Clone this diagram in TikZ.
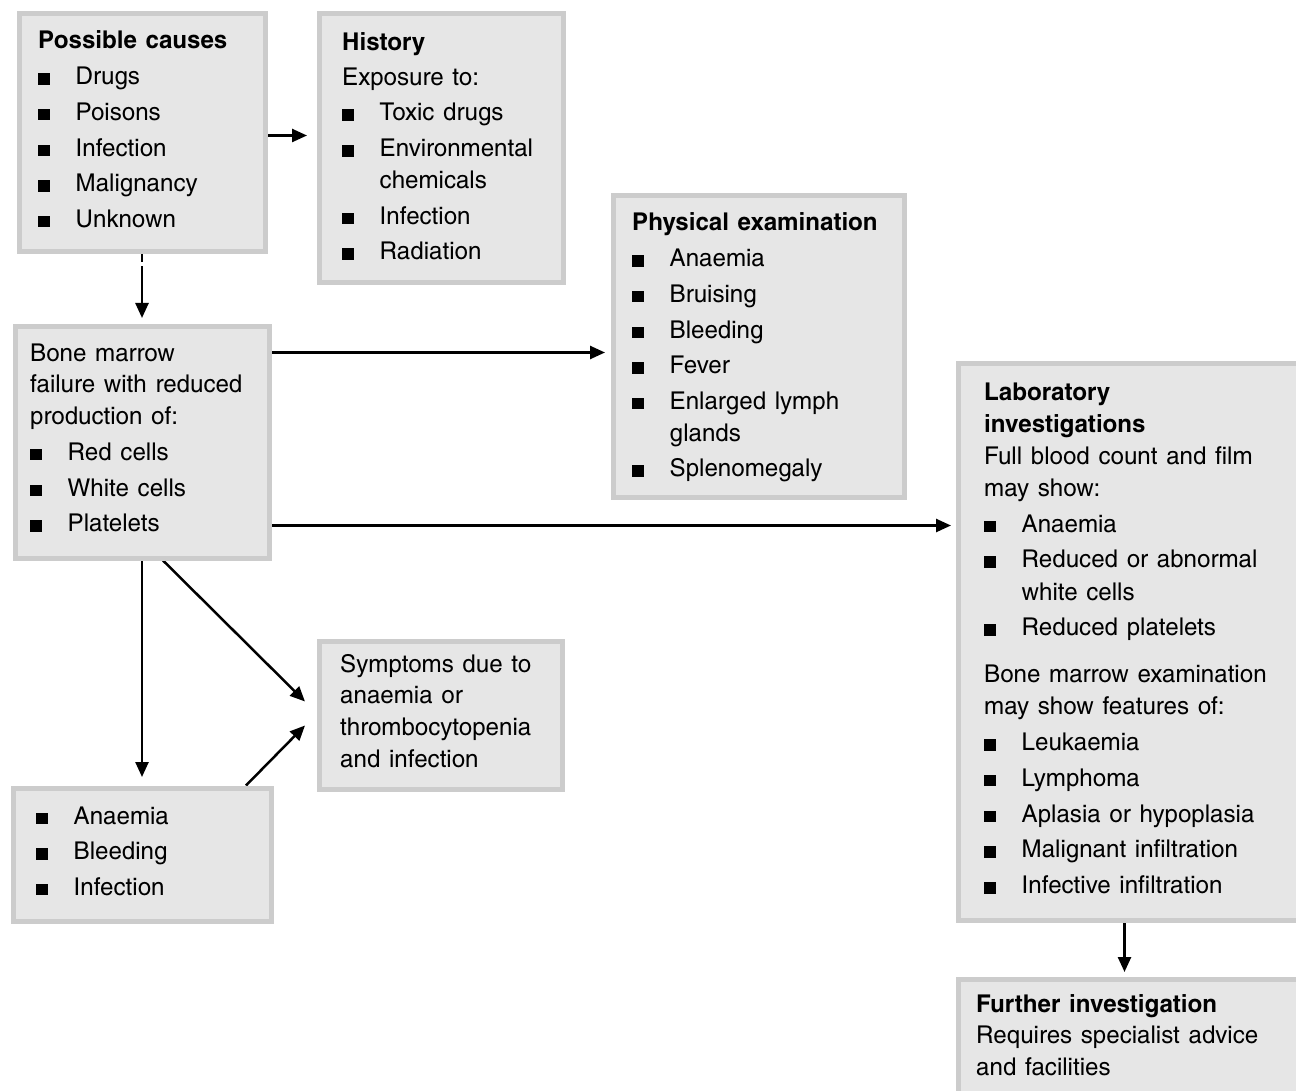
\documentclass[tikz,border=0pt]{standalone}
\usepackage{fontspec}
\setmainfont{TeX Gyre Heros Cn}[FakeStretch=1.2, WordSpace=1.3]
\usetikzlibrary{arrows.meta}
\pgfdeclarelayer{back}
\pgfsetlayers{back,main}
\definecolor{boxfill}{HTML}{E6E6E6}
\definecolor{boxline}{HTML}{CCCCCC}

% square bullet and hanging list item
\newcommand\sqb{\rule{11.5pt}{11.5pt}}
\newcommand\itm{\par\hangindent=37.5pt\hangafter=1\noindent\makebox[37.5pt][l]{\sqb}\ignorespaces}
% text block: first baseline is the node's base
\newcommand\blk[2]{\begin{minipage}[t]{#1}\raggedright\fontsize{24.5pt}{31.8pt}\selectfont
  \setlength\parskip{3.9pt}\setlength\parindent{0pt}#2\end{minipage}}
% leading for the long laboratory list
\newcommand\loose{\fontsize{24.5pt}{32.1pt}\selectfont\setlength\parskip{3.7pt}}

\tikzset{
  box/.style={draw=boxline, fill=boxfill, line width=5pt, inner sep=0pt, anchor=north west},
  txt/.style={inner sep=0pt, anchor=base west},
  arr/.style={line width=2.5pt, -{Triangle[length=15pt,width=13pt]}},
}

\begin{document}
\begin{tikzpicture}[x=1pt,y=-1pt]
\useasboundingbox (0,0) rectangle (1296,1091);

% panels
\node[box, minimum width=246pt, minimum height=238pt] (pc)   at (16.5,11.5) {};
\node[box, minimum width=244pt, minimum height=269pt] (hist) at (316.5,11.5) {};
\node[box, minimum width=291pt, minimum height=301pt] (phys) at (610.5,193.5) {};
\node[box, minimum width=254pt, minimum height=231pt] (bm)   at (12.5,324.5) {};
\node[box, minimum width=243pt, minimum height=148pt] (sym)  at (316.5,638.5) {};
\node[box, minimum width=258pt, minimum height=133pt] (bl)   at (10.5,785.5) {};
\node[box, minimum width=340pt, minimum height=557pt] (lab)  at (955.5,360.5) {};
\node[box, minimum width=340pt, minimum height=131pt] (fur)  at (955.5,976.5) {};

% panel texts
\node[txt] (pc-t) at (38,49) {\blk{225pt}{\textbf{Possible causes}
  \itm Drugs \itm Poisons \itm Infection \itm Malignancy \itm Unknown}};
\node[txt] (hist-t) at (342,51) {\blk{230pt}{\textbf{History}\\[2.5pt]Exposure to:
  \itm Toxic drugs \itm Environmental\newline chemicals \itm Infection \itm Radiation}};
\node[txt] (phys-t) at (632,231) {\blk{280pt}{\textbf{Physical examination}
  \itm Anaemia \itm Bruising \itm Bleeding \itm Fever \itm Enlarged lymph\newline glands
  \itm Splenomegaly}};
\node[txt] (bm-t) at (30,361) {\blk{250pt}{Bone marrow\\failure with reduced\\production of:
  \itm Red cells \itm White cells \itm Platelets}};
\node[txt] (sym-t) at (340,672) {\blk{230pt}{Symptoms due to\\anaemia or\\thrombocytopenia\\and infection}};
\node[txt] (bl-t) at (36,824) {\blk{235pt}{\itm Anaemia \itm Bleeding \itm Infection}};
\node[txt] (lab-t) at (984,400) {\blk{320pt}{\loose\textbf{Laboratory}\\\textbf{investigations}\\
  Full blood count and film\\may show:
  \itm Anaemia \itm Reduced or abnormal\newline white cells \itm Reduced platelets
  \par\vspace{11pt}Bone marrow examination\\may show features of:
  \itm Leukaemia \itm Lymphoma \itm Aplasia or hypoplasia \itm Malignant infiltration
  \itm Infective infiltration}};
\node[txt] (fur-t) at (976,1012) {\blk{320pt}{\textbf{Further investigation}\\
  Requires specialist advice\\and facilities}};

% connectors, kept behind the panels
\begin{pgfonlayer}{back}
\draw[arr, shorten >=9.5pt] ([yshift=-2.5pt]pc.east) -- ([yshift=-2.5pt]pc.east -| hist.west);
\draw[arr, shorten >=6.5pt, dash pattern=on 8pt off 4pt on 300pt] (pc.south) -- (bm.north);
\draw[arr, shorten >=5.5pt] ([yshift=90pt]bm.east) -- ([yshift=90pt]bm.east -| phys.west);
\draw[arr, shorten >=4.5pt] ([yshift=-83pt]bm.east) -- ([yshift=-83pt]bm.east -| lab.west);
\draw[arr, shorten >=8.5pt] (bm.south) -- (bl.north);
\draw[arr] ([xshift=21pt]bm.south) -- ([xshift=-11.5pt,yshift=13.5pt]sym.west);
\draw[arr] ([xshift=104pt]bl.north) -- ([xshift=-11.5pt,yshift=-10.5pt]sym.west);
\draw[arr, shorten >=4.5pt] ([xshift=-3.5pt]lab.south) -- ([xshift=-3.5pt]fur.north);
\end{pgfonlayer}
\end{tikzpicture}
\end{document}
